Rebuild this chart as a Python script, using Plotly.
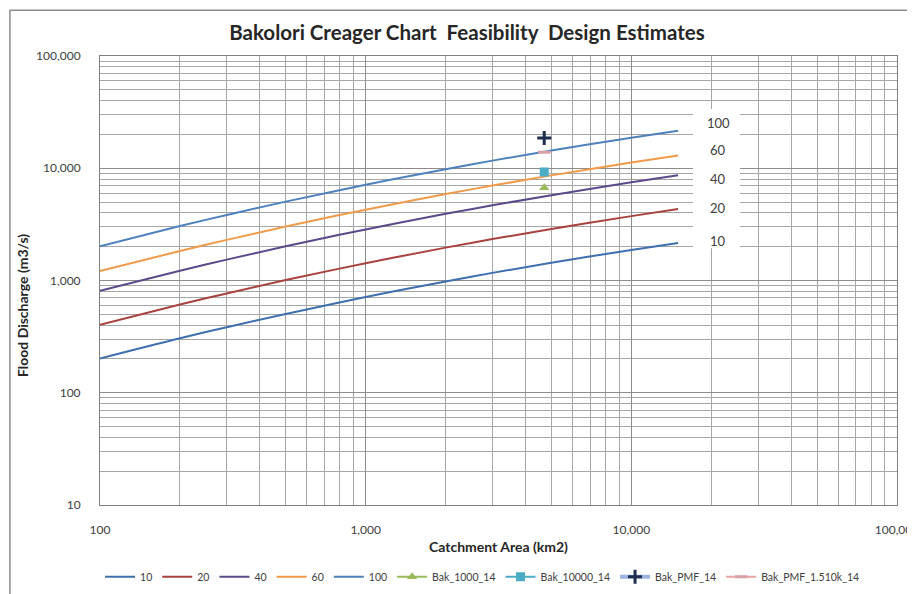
import math
import plotly.graph_objects as go

# catchment areas (km2) at which the Creager curves were read
areas = [100, 200, 300, 500, 1000, 2000, 3000, 5000, 10000, 15000]

# flood discharge (m3/s)
c10 = [202, 306, 384, 504, 713, 981, 1169, 1440, 1870, 2160]
c20 = [404, 611, 767, 1009, 1425, 1962, 2338, 2880, 3745, 4325]
c40 = [808, 1222, 1535, 2017, 2850, 3924, 4675, 5760, 7490, 8650]
c60 = [1213, 1833, 2302, 3026, 4275, 5885, 7013, 8640, 11230, 12970]
c100 = [2021, 3055, 3837, 5043, 7125, 9809, 11690, 14400, 18720, 21620]

# Bakolori design estimates
bak_area = [4700]
bak_1000 = [6700]
bak_10000 = [9260]
bak_pmf = [18600]
bak_pmf15 = [13900]

curve_names = ['10', '20', '40', '60', '100']
curve_values = [c10, c20, c40, c60, c100]
curve_colors = ['#3F6FAF', '#A8423F', '#5B4A8A', '#F09A4A', '#4F81BD']

y_ticks = [10, 100, 1000, 10000, 100000]
y_labels = ['10', '100', '1,000', '10,000', '100,000']
x_ticks = [100, 1000, 10000, 100000]
x_labels = ['100', '1,000', '10,000', '100,000']

# curve labels on the right
label_text = ['100', '60', '40', '20', '10']
label_y = [25300, 14500, 8000, 4450, 2250]
label_x = 21200

FONT = 'Lato'

fig = go.Figure()

for name, vals, col in zip(curve_names, curve_values, curve_colors):
    fig.add_trace(go.Scatter(x=areas, y=vals, name=name, mode='lines',
                             line=dict(color=col, width=2, shape='spline')))

fig.add_trace(go.Scatter(x=bak_area, y=bak_1000, name='Bak_1000_14', mode='lines+markers',
                         line=dict(color='#9BBB59', width=2),
                         marker=dict(symbol='triangle-up', size=9, color='#9BBB59')))
fig.add_trace(go.Scatter(x=bak_area, y=bak_10000, name='Bak_10000_14', mode='lines+markers',
                         line=dict(color='#4BACC6', width=2),
                         marker=dict(symbol='square', size=9, color='#4BACC6')))
fig.add_trace(go.Scatter(x=bak_area, y=bak_pmf, name='Bak_PMF_14', mode='lines+markers',
                         line=dict(color='#9DB3E0', width=4),
                         marker=dict(symbol='cross-thin', size=10, color='#1F2D4F',
                                     line=dict(color='#1F2D4F', width=3))))
fig.add_trace(go.Scatter(x=bak_area, y=bak_pmf15, name='Bak_PMF_1.510k_14', mode='lines+markers',
                         line=dict(color='#E6A5A5', width=2),
                         marker=dict(symbol='line-ew', size=9, color='#E0A0A0',
                                     line=dict(color='#D9A0A8', width=3))))

# white box behind the curve labels
fig.add_shape(type='rect', xref='paper', yref='paper', x0=0.744, x1=0.803, y0=0.572, y1=0.882,
              fillcolor='white', line=dict(width=0), layer='above')
for t, yv in zip(label_text, label_y):
    fig.add_annotation(x=math.log10(label_x), y=math.log10(yv), text=t, showarrow=False,
                       xref='x', yref='y', xanchor='center', yanchor='middle',
                       font=dict(family=FONT, size=13, color='#404040'))

# axis titles
fig.add_annotation(x=0.4994, y=-0.0935, xref='paper', yref='paper', showarrow=False,
                   text='<b>Catchment Area (km2)</b>', xanchor='center', yanchor='middle',
                   font=dict(family=FONT, size=14, color='#262626'))
fig.add_annotation(x=-0.098, y=0.445, xref='paper', yref='paper', showarrow=False, textangle=-90,
                   text='<b>Flood Discharge (m3/s)</b>', xanchor='center', yanchor='middle',
                   font=dict(family=FONT, size=14, color='#262626'))

# outer chart border
fig.add_shape(type='rect', xref='paper', yref='paper', x0=-0.113, x1=1.05, y0=-0.25, y1=1.102,
              line=dict(color='#8C8C8C', width=1.5), fillcolor='rgba(0,0,0,0)', layer='above')

grid = dict(showgrid=True, gridcolor='#8C8C8C', gridwidth=1,
            showline=True, linecolor='#808080', linewidth=1, mirror=True,
            zeroline=False, ticks='', automargin=False, ticklabeloverflow='allow')

fig.update_xaxes(type='log', range=[2, 5], tickvals=x_ticks, ticktext=x_labels,
                 tickfont=dict(family=FONT, size=12, color='#404040'), ticklabelstandoff=14,
                 minor=dict(dtick='D1', showgrid=True, gridcolor='#A6A6A6', gridwidth=1),
                 **grid)
fig.update_yaxes(type='log', range=[1, 5], tickvals=y_ticks, ticktext=y_labels,
                 tickfont=dict(family=FONT, size=12, color='#404040'), ticklabelstandoff=16,
                 minor=dict(dtick='D1', showgrid=True, gridcolor='#A6A6A6', gridwidth=1),
                 **grid)

fig.update_layout(
    width=907, height=586,
    margin=dict(l=92, r=18, t=48, b=89, autoexpand=False),
    paper_bgcolor='white', plot_bgcolor='white',
    title=dict(text='<b>Bakolori Creager Chart  Feasibility  Design Estimates</b>',
               x=0.506, xanchor='center', y=0.957, yanchor='middle',
               font=dict(family=FONT, size=20.5, color='#262626')),
    legend=dict(orientation='h', x=0.48, xanchor='center', y=-0.16, yanchor='middle',
                font=dict(family=FONT, size=10.5, color='#404040'), itemwidth=30,
                tracegroupgap=0),
    showlegend=True,
)

fig.write_html('out.html')
